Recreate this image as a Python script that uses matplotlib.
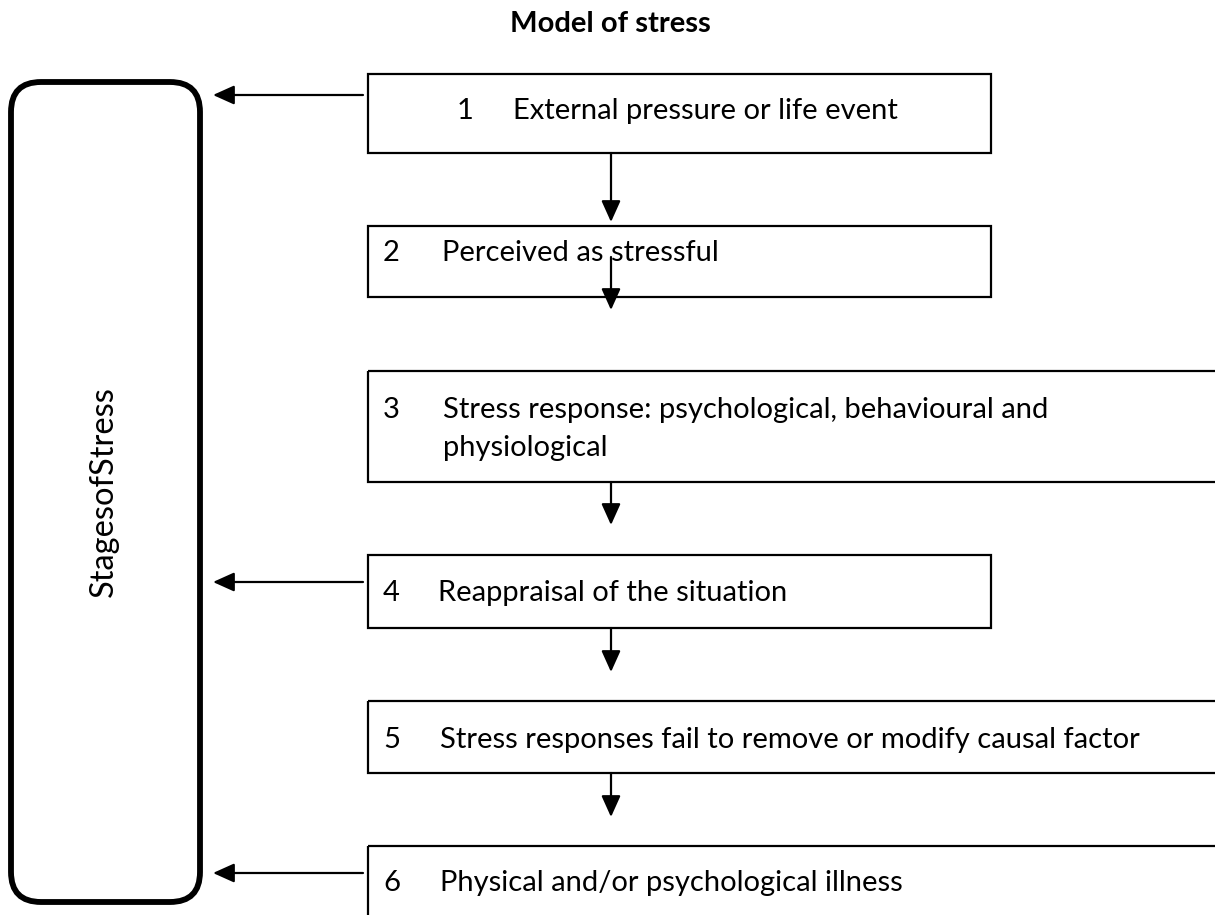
import matplotlib
matplotlib.use("Agg")
import matplotlib.pyplot as plt
from matplotlib.patches import Rectangle, FancyBboxPatch

plt.rcParams['font.family'] = ['Lato', 'DejaVu Sans']

title = "Model of stress"
side_label = "StagesofStress"
step_numbers = ["1", "2", "3", "4", "5", "6"]
step_texts = [
    "External pressure or life event",
    "Perceived as stressful",
    "Stress response: psychological, behavioural and\nphysiological",
    "Reappraisal of the situation",
    "Stress responses fail to remove or modify causal factor",
    "Physical and/or psychological illness",
]

# layout (pixel coordinates)
box_left = 368
box_top = [74, 226, 371, 555, 701, 846]
box_bottom = [153, 297, 482, 628, 773, 940]
box_right = [991, 991, 1240, 991, 1240, 1240]
num_x = [457, 383, 383, 383, 383, 383]
txt_x = [513, 442, 443, 438, 440, 440]
txt_y = [111, 253, 410, 593, 740, 883]
down_arrows = [(153, 222), (257, 310), (482, 525), (628, 672), (773, 817)]
arrow_x = 611
left_arrow_y = [95, 582, 873]

W, H = 1215, 915
fig = plt.figure(figsize=(W / 100, H / 100), dpi=100)
ax = fig.add_axes([0, 0, 1, 1])
ax.set_xlim(0, W)
ax.set_ylim(H, 0)
ax.axis("off")

FS = 21

ax.text(610, 24, title, ha="center", va="center", fontsize=FS, fontweight="bold")

# left rounded box
rb = FancyBboxPatch((11, 82), 189, 820, boxstyle="round,pad=0,rounding_size=30",
                    fill=False, lw=4.2, ec="black")
ax.add_patch(rb)
ax.text(104, 492, side_label, rotation=90, ha="center", va="center", fontsize=FS + 2.5)

# step boxes
for i in range(len(step_texts)):
    r = Rectangle((box_left, box_top[i]), box_right[i] - box_left,
                  box_bottom[i] - box_top[i], fill=False, lw=1.6, ec="black")
    ax.add_patch(r)
    ax.text(num_x[i], txt_y[i], step_numbers[i], ha="left", va="center", fontsize=FS)
    for k, ln in enumerate(step_texts[i].split("\n")):
        ax.text(txt_x[i], txt_y[i] + 38 * k, ln, ha="left", va="center", fontsize=FS)

arrow_style = "-|>,head_length=1.0,head_width=0.45"

# vertical arrows
for y0, y1 in down_arrows:
    ax.annotate("", xy=(arrow_x, y1), xytext=(arrow_x, y0),
                arrowprops=dict(arrowstyle=arrow_style, lw=1.6, color="black",
                                shrinkA=0, shrinkB=0, mutation_scale=13))

# feedback arrows to left box
for y in left_arrow_y:
    ax.annotate("", xy=(213, y), xytext=(363, y),
                arrowprops=dict(arrowstyle=arrow_style, lw=1.6, color="black",
                                shrinkA=0, shrinkB=0, mutation_scale=13))

fig.savefig("out.png", dpi=100, facecolor="white")
